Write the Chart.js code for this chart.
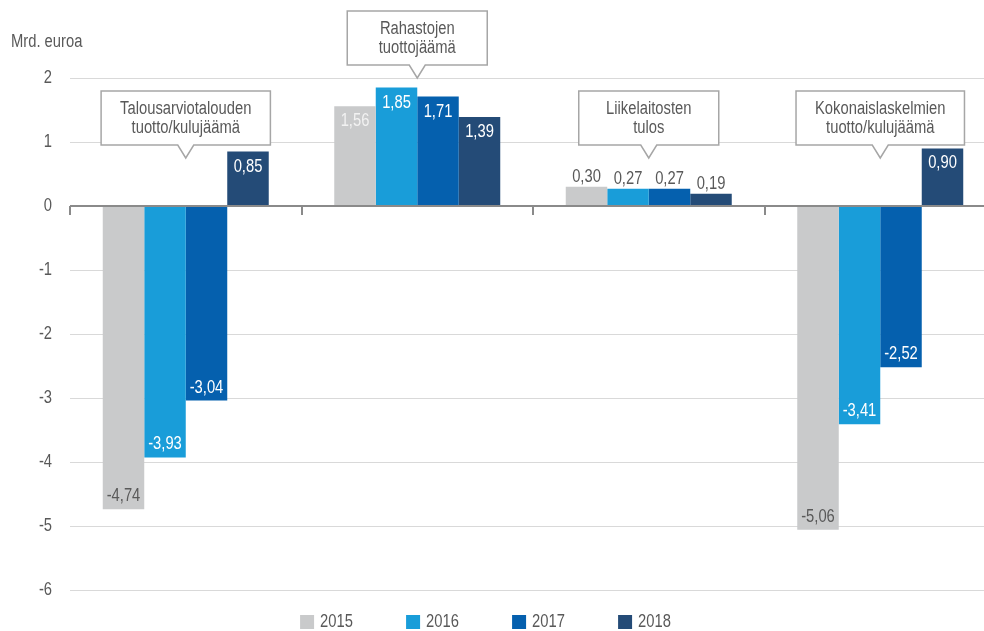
<!DOCTYPE html>
<html>
<head>
<meta charset="utf-8">
<title>Tuotto- ja kulujäämät</title>
<script src="https://cdn.jsdelivr.net/npm/chart.js@4.4.0/dist/chart.umd.min.js"></script>
<style>
    html, body { margin: 0; padding: 0; background: #fff; overflow: hidden; }
    #wrap { width: 1000px; height: 631px; }
</style>
</head>
<body>
<div id="wrap"><canvas id="balanceChart" width="1000" height="631"></canvas></div>
<script>
// Mrd. euroa
const categories = [
    ['Talousarviotalouden', 'tuotto/kulujäämä'],
    ['Rahastojen', 'tuottojäämä'],
    ['Liikelaitosten', 'tulos'],
    ['Kokonaislaskelmien', 'tuotto/kulujäämä'],
];
const years = ['2015', '2016', '2017', '2018'];
const values2015 = [-4.74, 1.56, 0.30, -5.06];
const values2016 = [-3.93, 1.85, 0.27, -3.41];
const values2017 = [-3.04, 1.71, 0.27, -2.52];
const values2018 = [0.85, 1.39, 0.19, 0.90];
const yTicks = [2, 1, 0, -1, -2, -3, -4, -5, -6];
const calloutTips = [0.75, 2, 0.75, 0.75];
const unitLabel = 'Mrd. euroa';

const FONT = "'Liberation Sans', Arial, sans-serif";
const NARROW = 0.82; // squeeze to a narrow face
const TEXT = '#595959';
const colors = ['#c9cacb', '#199dd9', '#0560ae', '#244b77'];

const fmt = (v) => v.toFixed(2).replace('.', ',');

const textWidth = (ctx, s) => ctx.measureText(s).width * NARROW;

const drawText = (ctx, s, x, y, align, color) => {
    ctx.save();
    ctx.translate(x, y);
    ctx.scale(NARROW, 1);
    ctx.textAlign = align;
    ctx.textBaseline = 'middle';
    ctx.fillStyle = color;
    ctx.fillText(s, 0, 0);
    ctx.restore();
};

const extras = {
    id: 'extras',
    afterDatasetsDraw(chart) {
        const {ctx, chartArea: area} = chart;
        const xs = chart.scales.x;
        const ys = chart.scales.y;
        const zeroY = Math.round(ys.getPixelForValue(0));
        const step = xs.getPixelForValue(1) - xs.getPixelForValue(0);

        ctx.save();
        ctx.font = `18px ${FONT}`;

        // zero line with category separators
        ctx.strokeStyle = '#8a8a8a';
        ctx.lineWidth = 2;
        ctx.beginPath();
        ctx.moveTo(area.left, zeroY);
        ctx.lineTo(area.right, zeroY);
        for (let i = 0; i <= categories.length; i++) {
            const bx = Math.round(xs.getPixelForValue(i) - step / 2);
            ctx.moveTo(bx, zeroY);
            ctx.lineTo(bx, zeroY + 9);
        }
        ctx.stroke();

        // y tick labels
        yTicks.forEach((v) => {
            drawText(ctx, String(v), 52, ys.getPixelForValue(v), 'right', TEXT);
        });

        // value labels
        chart.data.datasets.forEach((ds, di) => {
            chart.getDatasetMeta(di).data.forEach((bar, i) => {
                const v = ds.data[i];
                let y;
                let color = '#ffffff';
                if (Math.abs(v) < 0.5) {
                    y = bar.y - 10;
                    color = TEXT;
                } else if (v > 0) {
                    y = bar.y + 15;
                    if (di === 0) color = '#f2f2f2';
                } else {
                    y = bar.y - 13;
                    if (di === 0) color = TEXT;
                }
                drawText(ctx, fmt(v), bar.x, y, 'center', color);
            });
        });

        // callout boxes
        categories.forEach((lines, i) => {
            const tipX = xs.getPixelForValue(i);
            const tipY = ys.getPixelForValue(calloutTips[i]);
            const textW = Math.max(...lines.map(l => textWidth(ctx, l)));
            const w = Math.max(140, textW + 38);
            const h = 54;
            const bottom = tipY - 13;
            const top = bottom - h;
            const left = tipX - w / 2;
            const right = tipX + w / 2;

            ctx.beginPath();
            ctx.moveTo(left, top);
            ctx.lineTo(right, top);
            ctx.lineTo(right, bottom);
            ctx.lineTo(tipX + 8, bottom);
            ctx.lineTo(tipX, tipY);
            ctx.lineTo(tipX - 8, bottom);
            ctx.lineTo(left, bottom);
            ctx.closePath();
            ctx.fillStyle = '#ffffff';
            ctx.fill();
            ctx.strokeStyle = '#a6a6a6';
            ctx.lineWidth = 1.5;
            ctx.stroke();

            lines.forEach((l, li) => drawText(ctx, l, tipX, top + 18 + li * 19, 'center', TEXT));
        });

        // unit label
        drawText(ctx, unitLabel, 11, 42, 'left', TEXT);

        // legend
        const gap = 106;
        const lastW = 21 + textWidth(ctx, years[years.length - 1]);
        let lx = 486 - ((years.length - 1) * gap + lastW) / 2;
        const ly = 622;
        chart.data.datasets.forEach((ds) => {
            ctx.fillStyle = ds.backgroundColor;
            ctx.fillRect(lx, ly - 7, 14, 14);
            drawText(ctx, ds.label, lx + 20, ly, 'left', TEXT);
            lx += gap;
        });

        ctx.restore();
    },
};

const seriesValues = [values2015, values2016, values2017, values2018];

new Chart(document.getElementById('balanceChart'), {
    type: 'bar',
    data: {
        labels: categories.map(c => c.join(' ')),
        datasets: years.map((year, i) => ({
            label: year,
            data: seriesValues[i],
            backgroundColor: colors[i],
            categoryPercentage: 0.717,
            barPercentage: 1,
        })),
    },
    options: {
        responsive: false,
        animation: false,
        layout: {
            padding: {top: 78, right: 4, bottom: 41, left: 0},
        },
        plugins: {
            legend: {display: false},
            tooltip: {enabled: false},
        },
        scales: {
            x: {
                display: false,
                offset: true,
            },
            y: {
                min: -6,
                max: 2,
                afterBuildTicks: (scale) => {
                    scale.ticks = yTicks.map(v => ({value: v}));
                },
                afterFit: (scale) => {
                    scale.width = 70;
                },
                border: {display: false},
                grid: {
                    drawTicks: false,
                    color: (c) => (c.tick && c.tick.value === 0 ? '#8a8a8a' : '#d9d9d9'),
                    lineWidth: (c) => (c.tick && c.tick.value === 0 ? 2 : 1),
                },
                ticks: {display: false},
            },
        },
    },
    plugins: [extras],
});
</script>
</body>
</html>
